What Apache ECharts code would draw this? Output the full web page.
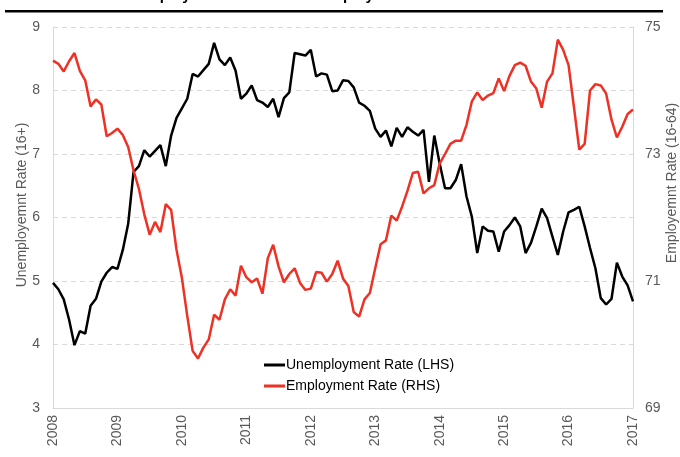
<!DOCTYPE html>
<html>
<head>
<meta charset="utf-8">
<script src="https://cdn.jsdelivr.net/npm/echarts@6/dist/echarts.min.js"></script>
<style>
  html, body { margin: 0; padding: 0; background: #fff; }
  #chart { width: 680px; height: 457px; }
</style>
</head>
<body>
<div id="chart"></div>
<script>
// monthly, Jan 2008 .. Jan 2017
const startYear = 2008
const yearTicks = ['2008', '2009', '2010', '2011', '2012', '2013', '2014', '2015', '2016', '2017']

// Unemployment rate, 16+ (LHS)
const unemployment = [
  4.97, 4.87, 4.71, 4.39, 3.99, 4.21, 4.17, 4.61, 4.72, 4.99,
  5.13, 5.22, 5.19, 5.49, 5.90, 6.72, 6.81, 7.06, 6.96, 7.05,
  7.14, 6.81, 7.29, 7.57, 7.72, 7.87, 8.26, 8.22, 8.32, 8.42,
  8.75, 8.49, 8.40, 8.52, 8.31, 7.87, 7.95, 8.08, 7.85, 7.81,
  7.74, 7.87, 7.58, 7.88, 7.97, 8.59, 8.57, 8.55, 8.64, 8.22,
  8.27, 8.25, 7.99, 8.00, 8.16, 8.15, 8.05, 7.81, 7.76, 7.68,
  7.40, 7.27, 7.37, 7.12, 7.41, 7.27, 7.42, 7.35, 7.29, 7.38,
  6.56, 7.29, 6.85, 6.46, 6.46, 6.59, 6.84, 6.33, 6.01, 5.44,
  5.86, 5.79, 5.78, 5.46, 5.78, 5.88, 6.00, 5.86, 5.44, 5.60,
  5.86, 6.14, 5.99, 5.70, 5.41, 5.78, 6.08, 6.12, 6.17, 5.86,
  5.52, 5.20, 4.73, 4.63, 4.72, 5.29, 5.07, 4.93, 4.68
]

// Employment rate, 16-64 (RHS)
const employment = [
  74.47, 74.42, 74.30, 74.46, 74.59, 74.31, 74.16, 73.75, 73.86, 73.78,
  73.28, 73.33, 73.40, 73.30, 73.11, 72.74, 72.45, 72.05, 71.73, 71.93,
  71.77, 72.21, 72.12, 71.49, 71.05, 70.45, 69.90, 69.78, 69.95, 70.08,
  70.47, 70.39, 70.71, 70.87, 70.77, 71.24, 71.06, 70.98, 71.04, 70.80,
  71.36, 71.57, 71.23, 70.98, 71.11, 71.20, 70.97, 70.86, 70.88, 71.14,
  71.13, 70.99, 71.11, 71.32, 71.04, 70.92, 70.51, 70.44, 70.71, 70.81,
  71.20, 71.58, 71.64, 72.03, 71.95, 72.17, 72.42, 72.70, 72.72, 72.38,
  72.46, 72.51, 72.85, 73.00, 73.16, 73.21, 73.21, 73.46, 73.83, 73.97,
  73.85, 73.92, 73.96, 74.19, 73.99, 74.23, 74.40, 74.44, 74.39, 74.14,
  74.03, 73.73, 74.14, 74.27, 74.80, 74.64, 74.40, 73.74, 73.07, 73.16,
  74.00, 74.10, 74.08, 73.95, 73.54, 73.26, 73.43, 73.63, 73.70
]

const font = 'Liberation Sans, Arial, sans-serif'
const grey = '#595959'
const lineGrey = '#d9d9d9'

const toPairs = (arr) => arr.map((v, i) => [startYear + i / 12, v])

const chart = echarts.init(document.getElementById('chart'))
chart.setOption({
  animation: false,
  textStyle: { fontFamily: font },
  graphic: [
    {
      type: 'text',
      left: 118,
      top: -12,
      style: {
        text: 'Unemployment Rate versus Employment Rate',
        font: 'bold 15px ' + font,
        fill: '#000'
      }
    },
    {
      type: 'rect',
      shape: { x: 5, y: 10, width: 658, height: 2.5 },
      style: { fill: '#000' }
    },
    // axis titles (placed off-centre as in the original)
    {
      type: 'text',
      x: 22,
      y: 205,
      rotation: Math.PI / 2,
      style: {
        text: 'Unemployemnt Rate (16+)',
        font: '14px ' + font,
        fill: grey,
        textAlign: 'center',
        textVerticalAlign: 'middle'
      }
    },
    {
      type: 'text',
      x: 672,
      y: 183,
      rotation: Math.PI / 2,
      style: {
        text: 'Employemnt Rate (16-64)',
        font: '14px ' + font,
        fill: grey,
        textAlign: 'center',
        textVerticalAlign: 'middle'
      }
    }
  ],
  grid: { left: 53, right: 47, top: 27, bottom: 49, outerBoundsMode: 'none' },
  legend: {
    orient: 'vertical',
    left: 259,
    top: 353,
    itemWidth: 21,
    itemHeight: 3,
    itemGap: 7,
    icon: 'rect',
    textStyle: { fontSize: 14, color: '#000', fontFamily: font, padding: [0, 0, 0, -4] },
    data: ['Unemployment Rate (LHS)', 'Employment Rate (RHS)']
  },
  xAxis: {
    type: 'value',
    min: 2008,
    max: 2017,
    interval: 1,
    axisLine: { show: true, lineStyle: { color: lineGrey, width: 1 } },
    axisTick: { show: false },
    splitLine: { show: false },
    axisLabel: {
      rotate: 90,
      margin: 7,
      fontSize: 14,
      color: grey,
      formatter: (v) => yearTicks[Math.round(v - startYear)] || ''
    }
  },
  yAxis: [
    {
      type: 'value',
      min: 3,
      max: 9,
      interval: 1,
      axisLine: { show: true, lineStyle: { color: lineGrey } },
      axisTick: { show: false },
      axisLabel: { fontSize: 14, color: grey, margin: 13 },
      splitLine: { show: true, lineStyle: { color: lineGrey, type: [5, 4] } }
    },
    {
      type: 'value',
      min: 69,
      max: 75,
      interval: 2,
      position: 'right',
      axisLine: { show: true, lineStyle: { color: lineGrey } },
      axisTick: { show: false },
      axisLabel: { fontSize: 14, color: grey, margin: 12 },
      splitLine: { show: false }
    }
  ],
  series: [
    {
      name: 'Unemployment Rate (LHS)',
      type: 'line',
      yAxisIndex: 0,
      data: toPairs(unemployment),
      showSymbol: false,
      symbol: 'none',
      lineStyle: { color: '#000', width: 2.5 },
      itemStyle: { color: '#000' }
    },
    {
      name: 'Employment Rate (RHS)',
      type: 'line',
      yAxisIndex: 1,
      data: toPairs(employment),
      showSymbol: false,
      symbol: 'none',
      lineStyle: { color: '#ee3124', width: 2.5 },
      itemStyle: { color: '#ee3124' }
    }
  ]
})
</script>
</body>
</html>
